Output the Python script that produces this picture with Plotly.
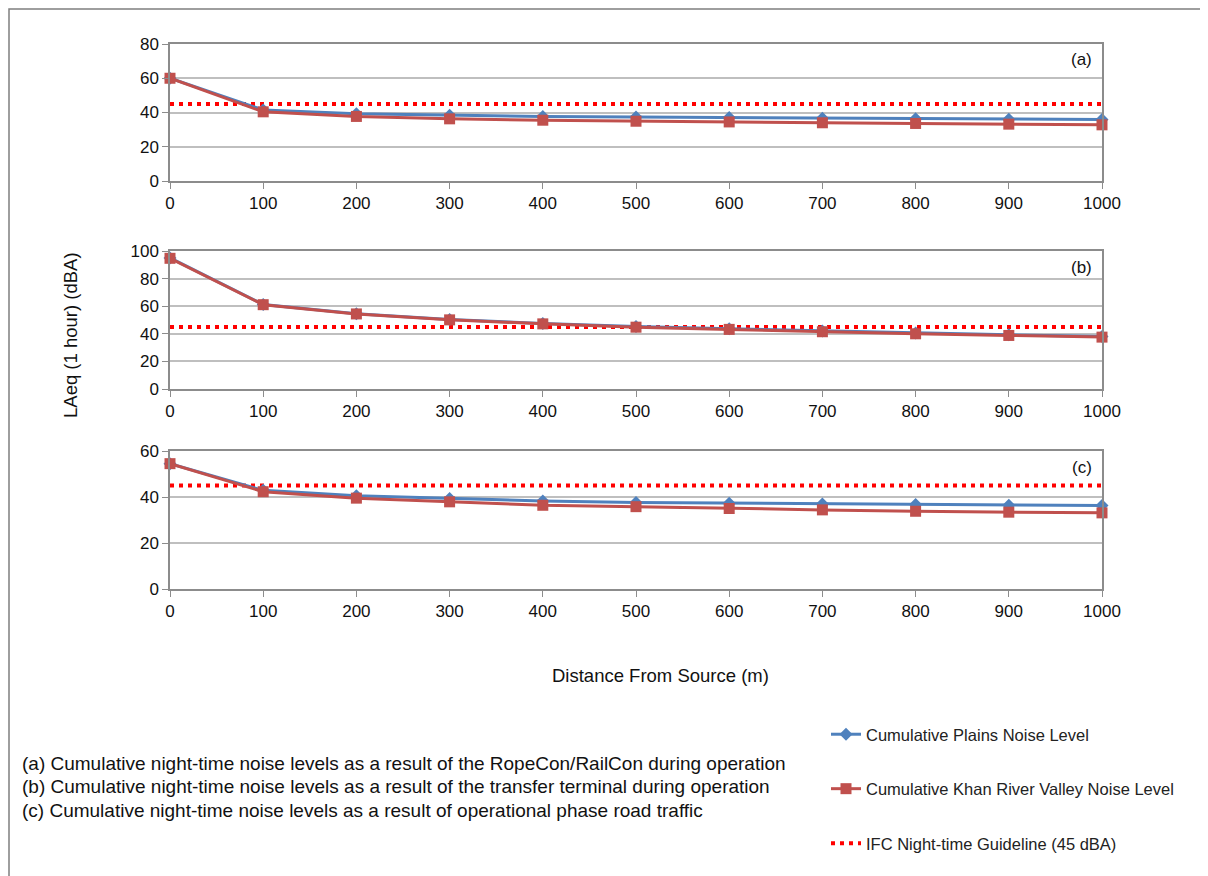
import plotly.graph_objects as go

W, H = 1208, 876

distance = [0, 100, 200, 300, 400, 500, 600, 700, 800, 900, 1000]

# Panel (a) RopeCon/RailCon
plains_a = [60, 41.5, 39.3, 38.4, 37.7, 37.3, 37.1, 36.7, 36.3, 36.1, 35.9]
khan_a = [60, 40.4, 37.7, 36.3, 35.5, 34.9, 34.5, 34.0, 33.6, 33.2, 32.8]

# Panel (b) transfer terminal
plains_b = [95, 61.3, 54.6, 50.4, 47.5, 45.2, 43.6, 42.0, 40.5, 39.3, 38.1]
khan_b = [94.7, 61.1, 54.4, 50.1, 47.2, 44.8, 43.2, 41.5, 40.0, 38.8, 37.6]

# Panel (c) road traffic
plains_c = [54.5, 42.9, 40.5, 39.3, 38.3, 37.6, 37.3, 37.0, 36.7, 36.4, 36.3]
khan_c = [54.5, 42.3, 39.5, 37.9, 36.4, 35.8, 35.0, 34.4, 33.8, 33.4, 33.1]

guideline = [45] * len(distance)

panel_labels = ["(a)", "(b)", "(c)"]
y_ranges = [[0, 80], [0, 100], [0, 60]]
y_dticks = [20, 20, 20]

x_ticks = [0, 100, 200, 300, 400, 500, 600, 700, 800, 900, 1000]

captions = [
    "(a) Cumulative night-time noise levels as a result of the RopeCon/RailCon during operation",
    "(b) Cumulative night-time noise levels as a result of the transfer terminal during operation",
    "(c) Cumulative night-time noise levels as a result of operational phase road traffic",
]

names = ["Cumulative Plains Noise Level",
         "Cumulative Khan River Valley Noise Level",
         "IFC Night-time Guideline (45 dBA)"]

BLUE = "#4F81BD"
RED = "#C0504D"
GUIDE = "#FF0000"
GRID = "#BFBFBF"
AXIS = "#8C8C8C"
FONT = "Liberation Sans, Arial, sans-serif"

OFF = 8  # page body margin


def px(x):
    return (x - OFF) / W


def py(y):
    return 1 - (y - OFF) / H


# pixel boxes (top, bottom) for each panel
panel_px = [(44, 181), (251, 389), (451, 589)]
x_left, x_right = 170, 1102

fig = go.Figure()

series = [(plains_a, khan_a), (plains_b, khan_b), (plains_c, khan_c)]
for i, (pl, kh) in enumerate(series):
    xa = "x" if i == 0 else f"x{i+1}"
    ya = "y" if i == 0 else f"y{i+1}"
    show = i == 0
    fig.add_trace(go.Scatter(
        x=distance, y=guideline, mode="lines", name=names[2],
        line=dict(color=GUIDE, width=4, dash="4px,5px"),
        xaxis=xa, yaxis=ya, showlegend=show, legendgroup="g3", legendrank=3,
        cliponaxis=False))
    fig.add_trace(go.Scatter(
        x=distance, y=pl, mode="lines+markers", name=names[0],
        line=dict(color=BLUE, width=3),
        marker=dict(symbol="diamond", size=10, color=BLUE),
        xaxis=xa, yaxis=ya, showlegend=show, legendgroup="g1", legendrank=1,
        cliponaxis=False))
    fig.add_trace(go.Scatter(
        x=distance, y=kh, mode="lines+markers", name=names[1],
        line=dict(color=RED, width=3),
        marker=dict(symbol="square", size=11, color=RED),
        xaxis=xa, yaxis=ya, showlegend=show, legendgroup="g2", legendrank=2,
        cliponaxis=False))

layout = dict(
    width=W, height=H,
    margin=dict(l=0, r=0, t=0, b=0),
    paper_bgcolor="white", plot_bgcolor="white",
    font=dict(family=FONT, size=17, color="#111111"),
    showlegend=True,
    legend=dict(
        x=px(826), y=py(717), xanchor="left", yanchor="top",
        font=dict(size=16.5, color="#222222"),
        tracegroupgap=30, bgcolor="rgba(0,0,0,0)",
        itemwidth=30,
    ),
)

for i, (top, bot) in enumerate(panel_px):
    sfx = "" if i == 0 else str(i + 1)
    layout[f"xaxis{sfx}"] = dict(
        domain=[px(x_left), px(x_right)],
        anchor=f"y{sfx}",
        range=[0, 1000], tickvals=x_ticks,
        showgrid=False, zeroline=False,
        showline=True, linecolor=AXIS, linewidth=1.5, mirror=True,
        ticks="outside", ticklen=6, tickcolor=AXIS,
        tickfont=dict(size=17), automargin=False,
    )
    layout[f"yaxis{sfx}"] = dict(
        domain=[py(bot), py(top)],
        anchor=f"x{sfx}",
        range=y_ranges[i], dtick=y_dticks[i],
        showgrid=True, gridcolor=GRID, gridwidth=1.5, zeroline=False,
        showline=True, linecolor=AXIS, linewidth=1.5, mirror=True,
        ticks="outside", ticklen=6, tickcolor=AXIS,
        tickfont=dict(size=17), automargin=False,
    )

fig.update_layout(**layout)

annotations = []
for i, (top, bot) in enumerate(panel_px):
    annotations.append(dict(
        text=panel_labels[i], xref="paper", yref="paper",
        x=px(1094), y=py(top + 16), xanchor="right", yanchor="middle",
        showarrow=False, font=dict(size=17, color="#111111")))

annotations.append(dict(
    text="LAeq (1 hour) (dBA)", xref="paper", yref="paper",
    x=px(70), y=py(335), textangle=-90, xanchor="center", yanchor="middle",
    showarrow=False, font=dict(size=18.5, color="#111111")))
annotations.append(dict(
    text="Distance From Source (m)", xref="paper", yref="paper",
    x=px(660), y=py(675), xanchor="center", yanchor="middle",
    showarrow=False, font=dict(size=18.5, color="#111111")))

for j, cap in enumerate(captions):
    annotations.append(dict(
        text=cap, xref="paper", yref="paper",
        x=px(20), y=py(763 + j * 23.5), xanchor="left", yanchor="middle",
        showarrow=False, font=dict(size=19, color="#111111")))

fig.update_layout(annotations=annotations)

# outer frame of the figure (top and left edges visible)
fig.add_shape(type="rect", xref="paper", yref="paper",
              x0=px(9), y0=-0.05, x1=1.05, y1=py(9),
              line=dict(color="#7F7F7F", width=1.5), fillcolor="rgba(0,0,0,0)",
              layer="below")

fig.write_html("out.html")
